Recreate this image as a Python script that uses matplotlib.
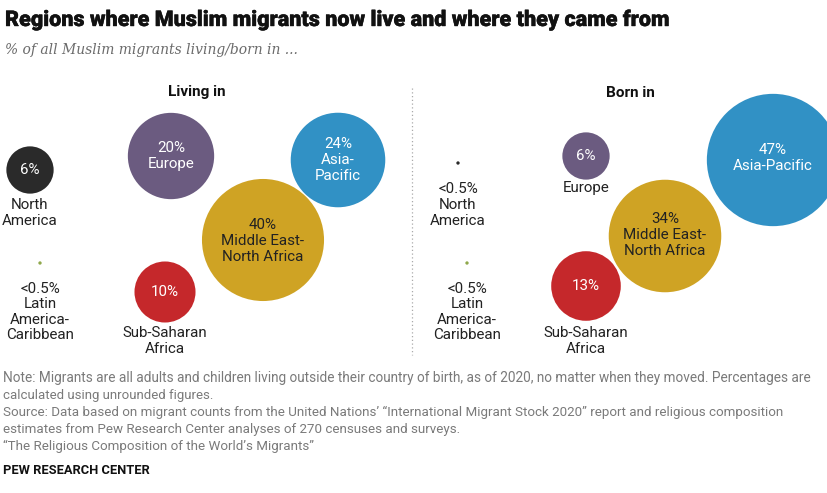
import numpy as np
import matplotlib
matplotlib.use("Agg")
import matplotlib.pyplot as plt
import matplotlib.patheffects as pe
from matplotlib.patches import Circle

# ---------------- data ----------------
regions = ["North America", "Latin America-Caribbean", "Europe",
           "Sub-Saharan Africa", "Middle East-North Africa", "Asia-Pacific"]
living_in = [6, 0.03, 20, 10, 40, 24]      # % of Muslim migrants living in region
born_in = [0.03, 0.03, 6, 13, 34, 47]      # % of Muslim migrants born in region
living_labels = ["6%", "<0.5%", "20%", "10%", "40%", "24%"]
born_labels = ["<0.5%", "<0.5%", "6%", "13%", "34%", "47%"]

# ---------------- style / layout ----------------
colors = ["#2a2a2a", "#8fa84c", "#6b5b80", "#c5282b", "#cfa324", "#3191c5"]
SCALE = 9.65  # px radius per sqrt(percent)

# bubble centres (pixel layout)
living_pos = [(30, 170), (40, 263), (171, 156), (165, 292), (263, 240), (338, 160)]
born_pos = [(458, 163), (467, 263), (586, 156), (586, 286), (665, 236), (773, 160)]

DARK = "#222222"
# label placement: (text, x, y, color)
living_text = [
    (living_labels[0], 30, 170, "white"),
    ("North\nAmerica", 30, 213, DARK),
    (living_labels[1] + "\nLatin\nAmerica-\nCaribbean", 40, 312, DARK),
    (living_labels[2] + "\nEurope", 171, 156, "white"),
    (living_labels[3], 165, 292, "white"),
    ("Sub-Saharan\nAfrica", 165, 341, DARK),
    (living_labels[4] + "\nMiddle East-\nNorth Africa", 263, 241, DARK),
    (living_labels[5] + "\nAsia-\nPacific", 338, 160, "white"),
]
born_text = [
    (born_labels[0] + "\nNorth\nAmerica", 458, 205, DARK),
    (born_labels[1] + "\nLatin\nAmerica-\nCaribbean", 467, 312, DARK),
    (born_labels[2], 586, 156, "white"),
    ("Europe", 586, 188, DARK),
    (born_labels[3], 586, 286, "white"),
    ("Sub-Saharan\nAfrica", 586, 341, DARK),
    (born_labels[4] + "\nMiddle East-\nNorth Africa", 665, 235, DARK),
    (born_labels[5] + "\nAsia-Pacific", 773, 158, "white"),
]

W, H = 828, 493
fig = plt.figure(figsize=(W / 100, H / 100), dpi=100)
ax = fig.add_axes([0, 0, 1, 1])
ax.set_xlim(0, W)
ax.set_ylim(H, 0)
ax.axis("off")

LBL_FONT = "Roboto"

def draw_panel(values, positions):
    for v, (x, y), c in zip(values, positions, colors):
        r = max(SCALE * np.sqrt(v), 1.6)
        ax.add_patch(Circle((x, y), r, facecolor=c, edgecolor="none", zorder=2))

draw_panel(living_in, living_pos)
draw_panel(born_in, born_pos)

for items in (living_text, born_text):
    for t, x, y, c in items:
        ax.text(x, y, t, ha="center", va="center", color=c, fontsize=10.9,
                family=LBL_FONT, linespacing=1.14, zorder=3)

ax.text(197, 92, "Living in", ha="center", va="center", fontsize=11,
        fontweight="bold", family=LBL_FONT, color="#111111")
ax.text(630, 93, "Born in", ha="center", va="center", fontsize=11,
        fontweight="bold", family=LBL_FONT, color="#111111")

# dotted divider
ax.plot([412, 412], [88, 355], linestyle=(0, (1, 2)), color="#aaaaaa", lw=0.9)

fig.canvas.draw()
renderer = fig.canvas.get_renderer()

def fit_text(x, y, s, target_w, **kw):
    t = ax.text(x, y, s, ha="left", va="center", **kw)
    w = t.get_window_extent(renderer).width
    t.set_fontsize(t.get_fontsize() * target_w / w)
    return t

fit_text(5, 20, "Regions where Muslim migrants now live and where they came from",
         667, fontsize=14, fontweight="heavy", family="Roboto", color="#111111",
         path_effects=[pe.withStroke(linewidth=0.3, foreground="#111111")])
fit_text(5, 50, "% of all Muslim migrants living/born in ...", 292,
         fontsize=12, style="italic", family="DejaVu Serif", color="#6b6b6b")

note_kw = dict(fontsize=8.5, family="Roboto", color="#7a7a7a")
fit_text(3, 378, "Note: Migrants are all adults and children living outside their country of birth, "
         "as of 2020, no matter when they moved. Percentages are", 798, **note_kw)
fit_text(3, 395, "calculated using unrounded figures.", 207, **note_kw)
fit_text(3, 412, "Source: Data based on migrant counts from the United Nations\u2019 \u201cInternational "
         "Migrant Stock 2020\u201d report and religious composition", 770, **note_kw)
fit_text(3, 429, "estimates from Pew Research Center analyses of 270 censuses and surveys.", 449, **note_kw)
fit_text(3, 446, "\u201cThe Religious Composition of the World\u2019s Migrants\u201d", 307, **note_kw)
fit_text(3, 470, "PEW RESEARCH CENTER", 147, fontsize=9, fontweight="bold",
         family="Roboto", color="#111111")

fig.savefig("out.png", dpi=100, facecolor="white")
